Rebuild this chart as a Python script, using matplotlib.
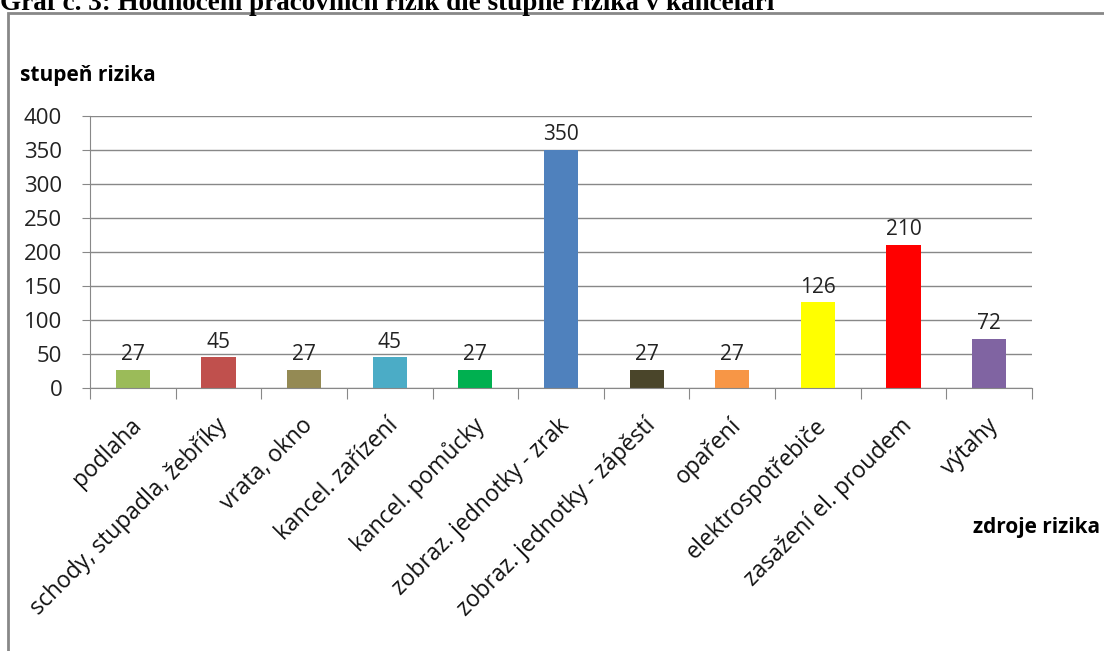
import matplotlib.pyplot as plt
from matplotlib.patches import Rectangle

plt.rcParams['font.family'] = ['Open Sans', 'DejaVu Sans']

kategorie = ["podlaha", "schody, stupadla, žebříky", "vrata, okno", "kancel. zařízení",
             "kancel. pomůcky", "zobraz. jednotky - zrak", "zobraz. jednotky - zápěstí",
             "opaření", "elektrospotřebiče", "zasažení el. proudem", "výtahy"]
hodnoty = [27, 45, 27, 45, 27, 350, 27, 27, 126, 210, 72]
barvy = ["#9BBB59", "#C0504D", "#948A54", "#4BACC6", "#00B050", "#4F81BD",
         "#4A452A", "#F79646", "#FFFF00", "#FF0000", "#8064A2"]

fig = plt.figure(figsize=(11.04, 6.51), dpi=100)
fig.patch.set_facecolor("white")

# ramecek kolem grafu
fig.patches.append(Rectangle((8 / 1104, -0.05), 1.1, 1 - 13 / 651 + 0.05,
                             transform=fig.transFigure, fill=False,
                             edgecolor="#888888", linewidth=2))

fig.text(0.0, 1 - 4 / 651, "Graf č. 3: Hodnocení pracovních rizik dle stupně rizika v kanceláři",
         family="Liberation Serif", fontweight="bold", fontsize=19.5, va="center", ha="left")

ax = fig.add_axes([90 / 1104, 1 - 388 / 651, (1032 - 90) / 1104, (388 - 116) / 651])
x = range(len(kategorie))
ax.bar(x, hodnoty, width=0.4, color=barvy)
for i, v in enumerate(hodnoty):
    ax.text(i, v + 7, str(v), ha="center", va="bottom", fontsize=15, color="#222222")

ax.set_xlim(-0.5, len(kategorie) - 0.5)
ax.set_ylim(0, 400)
ax.set_yticks(range(0, 401, 50))
ax.tick_params(axis="y", labelsize=16, length=6, pad=14, color="#888888", labelcolor="#222222")
ax.yaxis.grid(True, color="#888888", linewidth=1)
ax.set_axisbelow(True)

ax.set_xticks([i + 0.5 for i in range(-1, len(kategorie))])
ax.set_xticklabels([])
ax.tick_params(axis="x", length=8, color="#888888")
for i, k in enumerate(kategorie):
    ax.text(i - 0.04, -38, k, rotation=45, ha="right", va="top", rotation_mode="anchor",
            fontsize=16.5, color="#111111")

for s in ["top", "right"]:
    ax.spines[s].set_visible(False)
ax.spines["left"].set_color("#888888")
ax.spines["bottom"].set_color("#888888")

fig.text(20 / 1104, 1 - 75 / 651, "stupeň rizika", fontsize=15, fontweight="bold", va="center")
fig.text(973 / 1104, 1 - 527 / 651, "zdroje rizika", fontsize=15, fontweight="bold", va="center")

fig.savefig("out.png", dpi=100)
